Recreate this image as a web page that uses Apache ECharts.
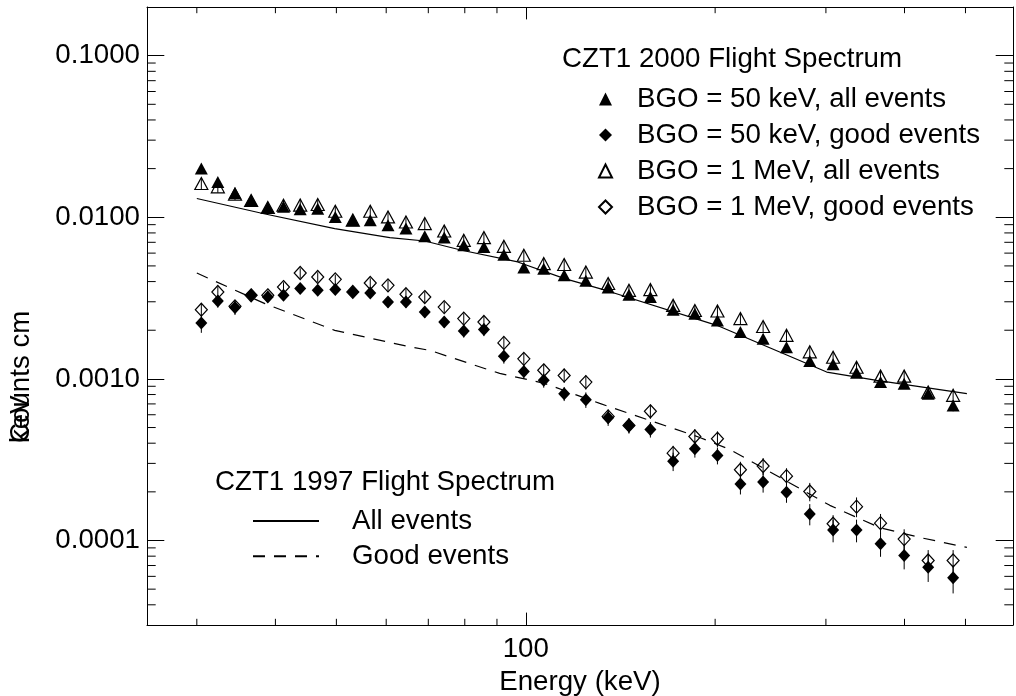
<!DOCTYPE html>
<html><head><meta charset="utf-8">
<script src="https://cdn.jsdelivr.net/npm/echarts@6/dist/echarts.min.js"></script>
<style>html,body{margin:0;padding:0;background:#fff}#c{width:1016px;height:696px}</style>
</head><body><div id="c"></div>
<script>
// ---------- data ----------
const energy = [30.5, 32.4, 34.5, 36.6, 38.9, 41.2, 43.8, 46.7, 49.8, 53.1, 56.6, 60.4, 64.5, 69.1, 74.2, 79.7, 85.8, 92.3, 99.3, 106.8, 115.1, 124.6, 135.2, 145.9, 157.8, 171.5, 185.7, 201.7, 219.4, 238.4, 259.7, 282.8, 308.0, 335.6, 366.4, 399.5, 436.2, 477.9];
const bgo50All = [0.0200, 0.01655, 0.01414, 0.01274, 0.01148, 0.0116, 0.0112, 0.0113, 0.01005, 0.00958, 0.00958, 0.00892, 0.00851, 0.00763, 0.00749, 0.00671, 0.00655, 0.00587, 0.00488, 0.00481, 0.00437, 0.00405, 0.00367, 0.00332, 0.00321, 0.00268, 0.00253, 0.00230, 0.00195, 0.00177, 0.00157, 0.00129, 0.00123, 0.00109, 0.000955, 0.000933, 0.000809, 0.000685];
const bgo50Good = [0.002215, 0.00303, 0.00276, 0.00329, 0.00321, 0.00329, 0.00362, 0.00353, 0.00357, 0.00345, 0.00340, 0.00299, 0.00299, 0.00259, 0.00225, 0.00198, 0.00202, 0.00138, 0.00111, 0.00098, 0.00081, 0.000743, 0.000575, 0.000515, 0.000487, 0.000309, 0.000370, 0.000336, 0.000224, 0.000230, 0.000199, 0.000146, 0.000116, 0.000116, 0.0000955, 0.0000808, 0.0000684, 0.0000588];
const bgo1MAll = [0.01618, 0.01543, 0.0139, 0.0127, 0.0115, 0.01186, 0.0119, 0.0120, 0.01089, 0.0096, 0.01089, 0.01005, 0.00935, 0.00914, 0.00822, 0.00720, 0.00749, 0.00661, 0.00582, 0.00517, 0.0051, 0.00458, 0.00389, 0.00353, 0.00357, 0.00285, 0.00265, 0.00263, 0.00236, 0.00211, 0.00186, 0.00147, 0.00136, 0.00118, 0.00104, 0.00104, 0.000828, 0.000791];
const bgo1MGood = [0.00268, 0.00345, 0.00281, 0.00329, 0.00329, 0.00370, 0.00452, 0.00427, 0.00413, 0.00345, 0.00392, 0.00379, 0.00334, 0.00321, 0.00278, 0.00236, 0.00225, 0.00167, 0.00133, 0.00113, 0.00105, 0.000955, 0.000586, 0.000515, 0.000630, 0.000347, 0.000440, 0.000426, 0.000274, 0.000289, 0.000250, 0.000201, 0.000127, 0.000162, 0.000128, 0.000102, 0.0000752, 0.0000752];
// relative (fractional) error-bar half lengths
const err50All = [0.05, 0.05, 0.04, 0.04, 0.04, 0.04, 0.04, 0.04, 0.04, 0.04, 0.04, 0.04, 0.04, 0.04, 0.04, 0.05, 0.05, 0.05, 0.05, 0.05, 0.05, 0.05, 0.05, 0.05, 0.05, 0.05, 0.05, 0.05, 0.06, 0.06, 0.06, 0.06, 0.06, 0.06, 0.07, 0.07, 0.07, 0.08];
const err50Good = [0.13, 0.09, 0.10, 0.07, 0.07, 0.07, 0.07, 0.07, 0.07, 0.07, 0.07, 0.08, 0.08, 0.08, 0.08, 0.09, 0.09, 0.10, 0.10, 0.10, 0.10, 0.11, 0.11, 0.11, 0.11, 0.13, 0.12, 0.12, 0.14, 0.14, 0.14, 0.15, 0.16, 0.16, 0.17, 0.18, 0.19, 0.20];
const err1MAll = [0.08, 0.08, 0.08, 0.08, 0.08, 0.08, 0.08, 0.08, 0.08, 0.08, 0.08, 0.08, 0.08, 0.08, 0.08, 0.08, 0.08, 0.08, 0.08, 0.08, 0.08, 0.08, 0.08, 0.08, 0.08, 0.08, 0.08, 0.08, 0.08, 0.08, 0.08, 0.08, 0.08, 0.08, 0.08, 0.08, 0.08, 0.08];
const err1MGood = [0.09, 0.08, 0.08, 0.07, 0.07, 0.07, 0.07, 0.07, 0.07, 0.07, 0.07, 0.08, 0.08, 0.08, 0.08, 0.08, 0.09, 0.09, 0.09, 0.09, 0.10, 0.10, 0.10, 0.10, 0.10, 0.11, 0.11, 0.11, 0.12, 0.12, 0.12, 0.13, 0.13, 0.14, 0.14, 0.15, 0.16, 0.16];
// 1997 flight spectrum (lines)
const allEnergy = [30.0, 38.2, 49.7, 60.8, 69.1, 79.1, 97.1, 115.3, 135.0, 201.2, 300.9, 361.4, 502.6];
const allValue = [0.01306, 0.01055, 0.00851, 0.00749, 0.00713, 0.00625, 0.00529, 0.00417, 0.00350, 0.002145, 0.001102, 0.000979, 0.000810];
const goodEnergy = [30.0, 38.5, 49.7, 65.7, 70.4, 90.9, 107.2, 131.1, 189.1, 211.0, 304.3, 365.5, 423.0, 502.6];
const goodValue = [0.00452, 0.00292, 0.001995, 0.001573, 0.001501, 0.001081, 0.000937, 0.000705, 0.000434, 0.000366, 0.000165, 0.000120, 0.0001044, 0.0000906];
// axes
const X_MIN = 25, X_MAX = 595, Y_MIN = 3e-5, Y_MAX = 0.2;
const xTickValues = [100];
const xTickLabels = ['100'];
const yTickValues = [0.0001, 0.001, 0.01, 0.1];
const yTickLabels = ['0.0001', '0.0010', '0.0100', '0.1000'];
const xMinorTicks = [30, 40, 50, 60, 70, 80, 90, 200, 300, 400, 500];
const yMinorTicks = [4e-5, 5e-5, 6e-5, 7e-5, 8e-5, 9e-5, 2e-4, 3e-4, 4e-4, 5e-4, 6e-4, 7e-4, 8e-4, 9e-4, 2e-3, 3e-3, 4e-3, 5e-3, 6e-3, 7e-3, 8e-3, 9e-3, 0.02, 0.03, 0.04, 0.05, 0.06, 0.07, 0.08, 0.09];
const names = ['BGO = 50 keV, all events', 'BGO = 50 keV, good events', 'BGO = 1 MeV, all events', 'BGO = 1 MeV, good events'];
const lineNames = ['All events', 'Good events'];

// ---------- chart ----------
const FONT = 'Liberation Sans, Arial, Helvetica, sans-serif';
const FS = 27.7;
const zip = (a, b) => a.map((v, i) => [v, b[i]]);
const zip3 = (a, b, c) => a.map((v, i) => [v, b[i], c[i]]);
function lookup(vals, labels, v) {
  for (let i = 0; i < vals.length; i++) {
    if (Math.abs(Math.log10(v) - Math.log10(vals[i])) < 1e-6) return labels[i];
  }
  return '';
}
function errItem(params, api) {
  const x = api.value(0), y = api.value(1), e = api.value(2);
  const p1 = api.coord([x, y * (1 + e)]), p2 = api.coord([x, y * (1 - e)]);
  return { type: 'line', shape: { x1: p1[0], y1: p1[1], x2: p2[0], y2: p2[1] }, style: { stroke: '#000', lineWidth: 1 } };
}
function xMinorItem(params, api) {
  const v = api.value(0);
  const b = api.coord([v, Y_MIN]), t = api.coord([v, Y_MAX]);
  return { type: 'group', children: [
    { type: 'line', shape: { x1: b[0], y1: b[1], x2: b[0], y2: b[1] - 6.2 }, style: { stroke: '#000', lineWidth: 1 } },
    { type: 'line', shape: { x1: t[0], y1: t[1], x2: t[0], y2: t[1] + 6.2 }, style: { stroke: '#000', lineWidth: 1 } }
  ] };
}
function yMinorItem(params, api) {
  const v = api.value(1);
  const l = api.coord([X_MIN, v]), r = api.coord([X_MAX, v]);
  return { type: 'group', children: [
    { type: 'line', shape: { x1: l[0], y1: l[1], x2: l[0] + 8.7, y2: l[1] }, style: { stroke: '#000', lineWidth: 1 } },
    { type: 'line', shape: { x1: r[0], y1: r[1], x2: r[0] - 8.7, y2: r[1] }, style: { stroke: '#000', lineWidth: 1 } }
  ] };
}
const axisLine = { show: true, lineStyle: { color: '#000', width: 1 } };
const chart = echarts.init(document.getElementById('c'), null, { renderer: 'canvas' });
chart.setOption({
  animation: false,
  backgroundColor: '#fff',
  textStyle: { fontFamily: FONT },
  grid: { left: 147, right: 3, top: 7, bottom: 71, containLabel: false, outerBoundsMode: 'none' },
  xAxis: [
    { type: 'log', logBase: 10, min: X_MIN, max: X_MAX, position: 'bottom',
      axisLine, splitLine: { show: false },
      axisTick: { show: true, inside: true, length: 12.4, lineStyle: { color: '#000' } },
      axisLabel: { show: true, showMinLabel: false, showMaxLabel: false, margin: 10, fontSize: FS, color: '#000', fontFamily: FONT,
        formatter: v => lookup(xTickValues, xTickLabels, v) },
      name: 'Energy (keV)', nameLocation: 'middle', nameGap: 38,
      nameTextStyle: { fontSize: FS, color: '#000', fontFamily: FONT } },
    { type: 'log', logBase: 10, min: X_MIN, max: X_MAX, position: 'top',
      axisLine, splitLine: { show: false },
      axisTick: { show: true, inside: true, length: 12.4, lineStyle: { color: '#000' } },
      axisLabel: { show: false } }
  ],
  yAxis: [
    { type: 'log', logBase: 10, min: Y_MIN, max: Y_MAX, position: 'left',
      axisLine, splitLine: { show: false },
      axisTick: { show: true, inside: true, length: 17.3, lineStyle: { color: '#000' } },
      axisLabel: { show: true, showMinLabel: false, showMaxLabel: false, margin: 7, fontSize: FS, color: '#000', fontFamily: FONT,
        formatter: v => lookup(yTickValues, yTickLabels, v) } },
    { type: 'log', logBase: 10, min: Y_MIN, max: Y_MAX, position: 'right',
      axisLine, splitLine: { show: false },
      axisTick: { show: true, inside: true, length: 17.3, lineStyle: { color: '#000' } },
      axisLabel: { show: false } }
  ],
  legend: [
    { data: names, orient: 'vertical', left: 598, top: 85, padding: 0, itemWidth: 13, itemHeight: 13, itemGap: 8,
      selectedMode: false, textStyle: { fontSize: FS, color: '#000', fontFamily: FONT, padding: [0, 0, 0, 20] } },
    { data: lineNames, orient: 'vertical', left: 252, top: 507, padding: 0, itemWidth: 66, itemHeight: 14, itemGap: 7.3,
      selectedMode: false, itemStyle: { opacity: 0 },
      textStyle: { fontSize: FS, color: '#000', fontFamily: FONT, padding: [0, 0, 0, 28] } }
  ],
  graphic: [
    { type: 'text', left: 562, top: 45.5, style: { text: 'CZT1 2000 Flight Spectrum', font: FS + 'px ' + FONT, fill: '#000' } },
    { type: 'text', left: 215, top: 468.5, style: { text: 'CZT1 1997 Flight Spectrum', font: FS + 'px ' + FONT, fill: '#000' } },
    { type: 'text', x: 21, y: 443, rotation: Math.PI / 2, style: { text: 'Counts cm', font: FS + 'px ' + FONT, fill: '#000', align: 'left', verticalAlign: 'middle' } },
    { type: 'text', x: 21, y: 443, rotation: Math.PI / 2, style: { text: 'keV', font: FS + 'px ' + FONT, fill: '#000', align: 'left', verticalAlign: 'middle' } }
  ],
  series: [
    { name: lineNames[0], type: 'line', data: zip(allEnergy, allValue), symbol: 'none', showSymbol: false,
      lineStyle: { color: '#000', width: 1.2 }, itemStyle: { color: '#000' }, z: 2 },
    { name: lineNames[1], type: 'line', data: zip(goodEnergy, goodValue), symbol: 'none', showSymbol: false,
      lineStyle: { color: '#000', width: 1.2, type: [12, 9] }, itemStyle: { color: '#000' }, z: 2 },
    { name: names[0], type: 'scatter', data: zip(energy, bgo50All), symbol: 'triangle', symbolSize: [13, 12],
      itemStyle: { color: '#000', opacity: 1 }, z: 3 },
    { name: names[1], type: 'scatter', data: zip(energy, bgo50Good), symbol: 'diamond', symbolSize: [12, 13],
      itemStyle: { color: '#000', opacity: 1 }, z: 3 },
    { name: names[2], type: 'scatter', data: zip(energy, bgo1MAll), symbol: 'triangle', symbolSize: [13, 12],
      itemStyle: { color: 'rgba(255,255,255,0)', borderColor: '#000', borderWidth: 1.2, opacity: 1 }, z: 4 },
    { name: names[3], type: 'scatter', data: zip(energy, bgo1MGood), symbol: 'diamond', symbolSize: [12, 13],
      itemStyle: { color: 'rgba(255,255,255,0)', borderColor: '#000', borderWidth: 1.2, opacity: 1 }, z: 4 },
    { type: 'custom', renderItem: errItem, data: zip3(energy, bgo50All, err50All), encode: { x: 0, y: 1 }, z: 5, silent: true },
    { type: 'custom', renderItem: errItem, data: zip3(energy, bgo50Good, err50Good), encode: { x: 0, y: 1 }, z: 5, silent: true },
    { type: 'custom', renderItem: errItem, data: zip3(energy, bgo1MAll, err1MAll), encode: { x: 0, y: 1 }, z: 5, silent: true },
    { type: 'custom', renderItem: errItem, data: zip3(energy, bgo1MGood, err1MGood), encode: { x: 0, y: 1 }, z: 5, silent: true },
    { type: 'custom', renderItem: xMinorItem, data: xMinorTicks.map(v => [v, Y_MIN]), encode: { x: 0, y: 1 }, clip: false, z: 6, silent: true },
    { type: 'custom', renderItem: yMinorItem, data: yMinorTicks.map(v => [X_MIN, v]), encode: { x: 0, y: 1 }, clip: false, z: 6, silent: true }
  ]
});
</script></body></html>
